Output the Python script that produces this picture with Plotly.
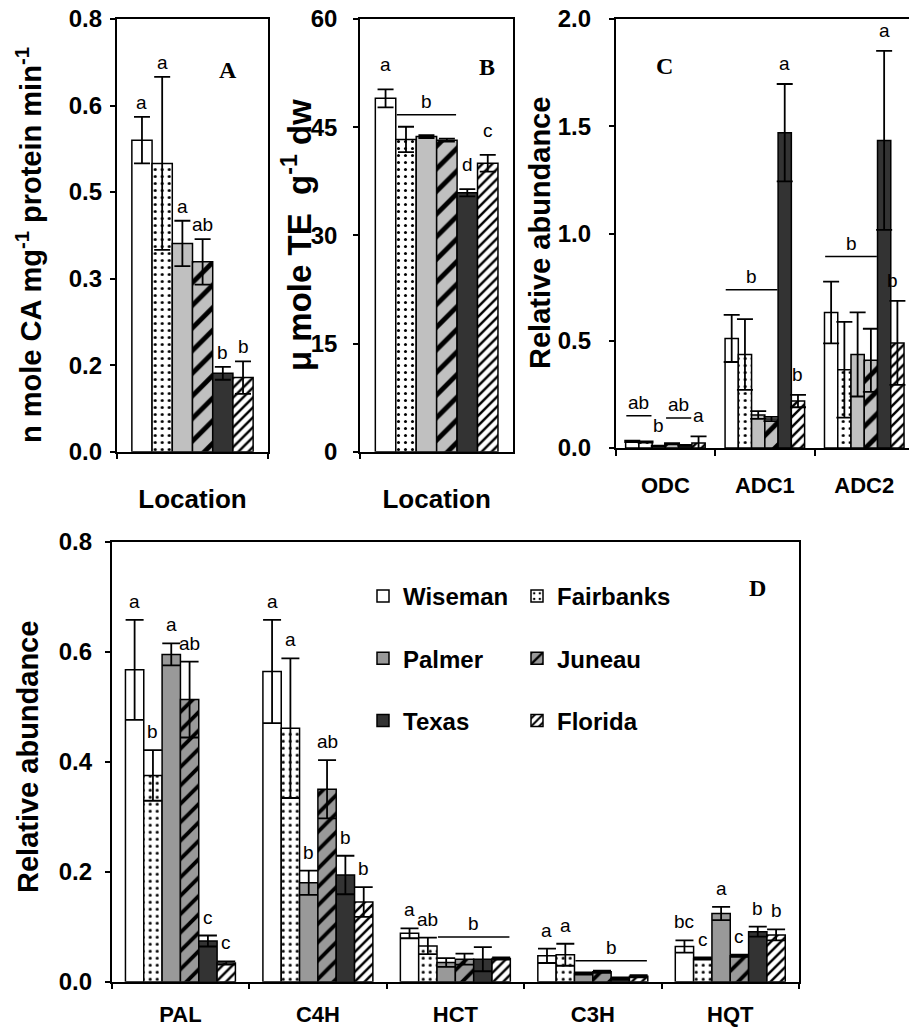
import plotly.graph_objects as go

W, H = 909, 1028
BARGAP = 0.2

series = ["Wiseman", "Fairbanks", "Palmer", "Juneau", "Texas", "Florida"]

# ---------- Panel A : n mole CA mg-1 protein min-1 ----------
a_categories = ["Location"]
a_means = [[0.576], [0.533], [0.385], [0.351], [0.145], [0.137]]
a_errors = [[0.043], [0.160], [0.042], [0.042], [0.012], [0.030]]
a_tickvals = [0.0, 0.16, 0.32, 0.48, 0.64, 0.8]
a_ticktext = ["0.0", "0.2", "0.3", "0.5", "0.6", "0.8"]
a_letters = [[(0, 0, "a"), (1, 1, "a"), (2, 2, "a"), (3, 3, "ab"), (4, 4, "b"), (5, 5, "b")]]

# ---------- Panel B : u mole TE g-1 dw ----------
b_categories = ["Location"]
b_means = [[49.0], [43.3], [43.7], [43.2], [35.9], [40.0]]
b_errors = [[1.25], [1.76], [0.2], [0.2], [0.5], [1.15]]
b_tickvals = [0, 15, 30, 45, 60]
b_letters = [[(0, 0, "a"), (1, 3, "b"), (4, 4, "d"), (5, 5, "c")]]

# ---------- Panel C : polyamine genes ----------
c_categories = ["ODC", "ADC1", "ADC2"]
c_means = [
    [0.031, 0.511, 0.632],
    [0.028, 0.436, 0.365],
    [0.009, 0.154, 0.436],
    [0.020, 0.135, 0.409],
    [0.0125, 1.470, 1.434],
    [0.0235, 0.219, 0.490],
]
c_errors = [
    [0.003, 0.110, 0.144],
    [0.003, 0.165, 0.223],
    [0.002, 0.018, 0.196],
    [0.003, 0.010, 0.147],
    [0.002, 0.227, 0.417],
    [0.031, 0.029, 0.196],
]
c_tickvals = [0.0, 0.5, 1.0, 1.5, 2.0]
c_letters = [
    [(0, 1, "ab"), (2, 2, "b"), (3, 4, "ab"), (5, 5, "a")],
    [(0, 3, "b"), (4, 4, "a"), (5, 5, "b")],
    [(0, 3, "b"), (4, 4, "a"), (5, 5, "b")],
]

# ---------- Panel D : phenylpropanoid genes ----------
d_categories = ["PAL", "C4H", "HCT", "C3H", "HQT"]
d_means = [
    [0.567, 0.564, 0.088, 0.047, 0.064],
    [0.375, 0.461, 0.065, 0.049, 0.042],
    [0.595, 0.180, 0.035, 0.015, 0.124],
    [0.513, 0.350, 0.041, 0.018, 0.047],
    [0.074, 0.194, 0.041, 0.006, 0.091],
    [0.034, 0.145, 0.042, 0.010, 0.085],
]
d_errors = [
    [0.091, 0.094, 0.009, 0.013, 0.011],
    [0.046, 0.127, 0.015, 0.020, 0.002],
    [0.020, 0.022, 0.008, 0.002, 0.012],
    [0.069, 0.053, 0.010, 0.002, 0.002],
    [0.010, 0.035, 0.022, 0.002, 0.009],
    [0.003, 0.027, 0.002, 0.002, 0.010],
]
d_tickvals = [0.0, 0.2, 0.4, 0.6, 0.8]
d_letters = [
    [(0, 0, "a"), (1, 1, "b"), (2, 2, "a"), (3, 3, "ab"), (4, 4, "c"), (5, 5, "c")],
    [(0, 0, "a"), (1, 1, "a"), (2, 2, "b"), (3, 3, "ab"), (4, 4, "b"), (5, 5, "b")],
    [(0, 0, "a"), (1, 1, "ab"), (2, 5, "b")],
    [(0, 0, "a"), (1, 1, "a"), (2, 5, "b")],
    [(0, 0, "bc"), (1, 1, "c"), (2, 2, "a"), (3, 3, "c"), (4, 4, "b"), (5, 5, "b")],
]

SANS = "Liberation Sans, Arial, sans-serif"
SERIF = "Liberation Serif, Times New Roman, serif"


def px_x(v):
    return v / W


def px_y(v):
    return 1 - v / H


def marker_style(name, panel):
    gray = "#999999" if panel == "D" else "#c0c0c0"
    stripe = 13 if panel == "D" else 16
    line = dict(color="black", width=1.5)
    if name == "Wiseman":
        return dict(color="white", line=line)
    if name == "Fairbanks":
        return dict(color="white", line=line,
                    pattern=dict(shape=".", fgcolor="black", bgcolor="white", size=7,
                                 solidity=0.15, fillmode="replace", fgopacity=1))
    if name == "Palmer":
        return dict(color=gray, line=line)
    if name == "Juneau":
        return dict(color=gray, line=line,
                    pattern=dict(shape="/", fgcolor="black", bgcolor=gray, size=stripe,
                                 solidity=0.3, fillmode="replace", fgopacity=1))
    if name == "Texas":
        return dict(color="#333333", line=line)
    return dict(color="white", line=line,
                pattern=dict(shape="/", fgcolor="black", bgcolor="white", size=7,
                             solidity=0.35, fillmode="replace", fgopacity=1))


# axis domains (paper fractions) and category ranges
x_domains = {
    "x": [px_x(116.7), px_x(268.3)],
    "x2": [px_x(360), px_x(513.3)],
    "x3": [px_x(615.7), 1.0],
    "x4": [px_x(111.7), px_x(799)],
}
x_ranges = {"x": [-0.5, 0.5], "x2": [-0.5, 0.5], "x3": [-0.5, 2.45], "x4": [-0.5, 4.5]}


def to_paper(xa, v):
    d0, d1 = x_domains[xa]
    r0, r1 = x_ranges[xa]
    return d0 + (v - r0) / (r1 - r0) * (d1 - d0)


fig = go.Figure()

panels = [
    ("A", a_categories, a_means, a_errors, "x", "y", 8),
    ("B", b_categories, b_means, b_errors, "x2", "y2", 8),
    ("C", c_categories, c_means, c_errors, "x3", "y3", 8),
    ("D", d_categories, d_means, d_errors, "x4", "y4", 9),
]
col_of = {"Wiseman": "legend", "Palmer": "legend", "Texas": "legend",
          "Fairbanks": "legend2", "Juneau": "legend2", "Florida": "legend2"}

for panel, cats, means, errs, xa, ya, cap in panels:
    for k, s in enumerate(series):
        fig.add_trace(go.Bar(
            x=cats, y=means[k], name=s, xaxis=xa, yaxis=ya,
            marker=marker_style(s, panel),
            error_y=dict(type="data", array=errs[k], visible=True, color="black",
                         thickness=1.8, width=cap),
            showlegend=(panel == "D"), legend=col_of[s], legendgroup=s,
            hoverinfo="skip",
        ))

annotations = []
shapes = []
LETTER_FONT = dict(family=SANS, size=19, color="black")


def add_letters(letters, means, errs, xa, ya, single_px, line_px):
    slot = (1 - BARGAP) / len(series)
    for ci, items in enumerate(letters):
        for i0, i1, txt in items:
            anchor = max(means[k][ci] + errs[k][ci] for k in range(i0, i1 + 1))
            xc0 = ci + (i0 - 2.5) * slot
            xc1 = ci + (i1 - 2.5) * slot
            if i0 == i1:
                xp = to_paper(xa, xc0)
                near_edge = xp * W > W - 20
                annotations.append(dict(x=min(xp + (3 / W if near_edge else 0), 1.0), y=anchor,
                                        xref="paper", yref=ya, text=txt, showarrow=False,
                                        xanchor="right" if near_edge else "center",
                                        yanchor="bottom", yshift=single_px, font=LETTER_FONT))
            else:
                shapes.append(dict(type="line", xref=xa, yref=ya, x0=xc0 - 0.45 * slot,
                                   x1=xc1 + 0.45 * slot, ysizemode="pixel", yanchor=anchor,
                                   y0=line_px, y1=line_px, line=dict(color="black", width=1.5)))
                annotations.append(dict(x=to_paper(xa, (xc0 + xc1) / 2), y=anchor, xref="paper",
                                        yref=ya, text=txt, showarrow=False, xanchor="center",
                                        yanchor="bottom", yshift=line_px + 1, font=LETTER_FONT))


add_letters(a_letters, a_means, a_errors, "x", "y", 2, 10)
add_letters(b_letters, b_means, b_errors, "x2", "y2", 12, 12)
add_letters(c_letters, c_means, c_errors, "x3", "y3", 8, 25)
add_letters(d_letters, d_means, d_errors, "x4", "y4", 6, 10)

ytitles = [
    ("n mole CA mg<sup>-1</sup> protein min<sup>-1</sup>", 29, 245, 29),
    ("\u03bc mole TE  g<sup>-1</sup> dw", 297, 235, 33),
    ("Relative abundance", 540, 233, 29),
    ("Relative abundance", 28, 757, 29),
]
for txt, cx, cy, fs in ytitles:
    annotations.append(dict(x=px_x(cx), y=px_y(cy), xref="paper", yref="paper", text=txt,
                            textangle=-90, showarrow=False, xanchor="center", yanchor="middle",
                            font=dict(family=SANS, size=fs, color="black", weight="bold")))

PANEL_FONT = dict(family=SERIF, size=24, color="black", weight="bold")
for txt, cx, cy in [("A", 228, 70), ("B", 487, 67), ("C", 664, 66), ("D", 757, 588)]:
    annotations.append(dict(x=px_x(cx), y=px_y(cy), xref="paper", yref="paper", text=txt,
                            showarrow=False, xanchor="center", yanchor="middle", font=PANEL_FONT))

TICK_FONT = dict(family=SANS, size=24, color="black", weight="bold")


def xaxis_style(xa, cats, fsize, standoff, mirror=True):
    return dict(domain=x_domains[xa], type="category", categoryorder="array", categoryarray=cats,
                range=x_ranges[xa], autorange=False, automargin=False,
                showline=True, linecolor="black", linewidth=1.5, mirror=mirror,
                showgrid=False, zeroline=False, ticks="outside", ticklen=6, tickwidth=1.5,
                tickcolor="black", tickson="boundaries", ticklabelstandoff=standoff,
                tickfont=dict(family=SANS, size=fsize, color="black", weight="bold"),
                fixedrange=True)


def yaxis_style(dom, anchor, rng, tickvals, ticktext, standoff, mirror=True):
    return dict(domain=dom, anchor=anchor, range=rng, autorange=False, automargin=False,
                tickmode="array", tickvals=tickvals, ticktext=ticktext,
                showline=True, linecolor="black", linewidth=1.5, mirror=mirror,
                showgrid=False, zeroline=False, ticks="outside", ticklen=5, tickwidth=1.5,
                tickcolor="black", ticklabelstandoff=standoff, tickfont=TICK_FONT,
                fixedrange=True)


top_dom = [px_y(451.7), px_y(19)]
c_dom = [px_y(448), px_y(19)]
d_dom = [px_y(981.7), px_y(541.7)]
LEG_FONT = dict(family=SANS, size=24, color="black", weight="bold")

fig.update_layout(
    template="none",
    width=W, height=H, margin=dict(l=0, r=0, t=0, b=0, autoexpand=False),
    paper_bgcolor="white", plot_bgcolor="white",
    barmode="group", bargap=BARGAP, bargroupgap=0,
    xaxis=dict(xaxis_style("x", a_categories, 26, 23), anchor="y"),
    yaxis=yaxis_style(top_dom, "x", [0, 0.8], a_tickvals, a_ticktext, 3),
    xaxis2=dict(xaxis_style("x2", b_categories, 26, 23), anchor="y2"),
    yaxis2=yaxis_style(top_dom, "x2", [0, 60], b_tickvals, [str(v) for v in b_tickvals], 11),
    xaxis3=dict(xaxis_style("x3", c_categories, 22, 17), anchor="y3"),
    yaxis3=yaxis_style(c_dom, "x3", [0, 2.0], c_tickvals, [f"{v:.1f}" for v in c_tickvals], 13, mirror=False),
    xaxis4=dict(xaxis_style("x4", d_categories, 22, 12), anchor="y4"),
    yaxis4=yaxis_style(d_dom, "x4", [0, 0.8], d_tickvals, [f"{v:.1f}" for v in d_tickvals], 8),
    legend=dict(x=px_x(363), y=px_y(574), xanchor="left", yanchor="top", orientation="v",
                font=LEG_FONT, tracegroupgap=28, bgcolor="rgba(0,0,0,0)", borderwidth=0),
    legend2=dict(x=px_x(517), y=px_y(574), xanchor="left", yanchor="top", orientation="v",
                 font=LEG_FONT, tracegroupgap=28, bgcolor="rgba(0,0,0,0)", borderwidth=0),
    annotations=annotations,
    shapes=shapes,
)

fig.write_html(
    "out.html",
    config={"displayModeBar": False},
    post_script="document.body.style.margin='0px';document.body.style.overflow='hidden';",
)
